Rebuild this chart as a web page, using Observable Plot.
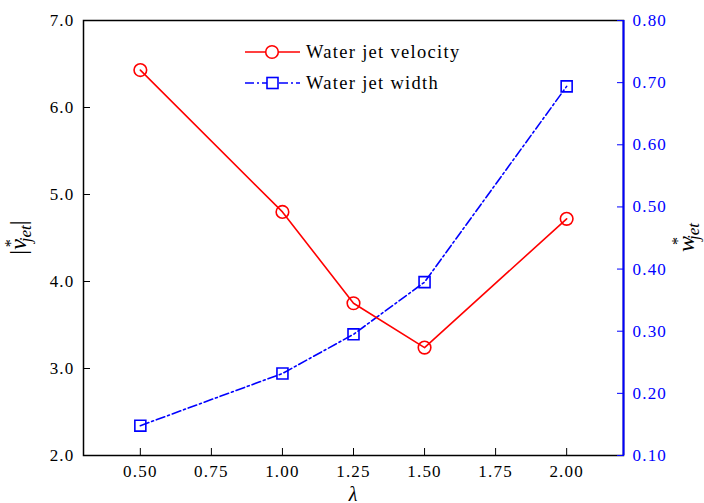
<!DOCTYPE html>
<html><head>
<meta charset="utf-8">
<script src="https://cdn.jsdelivr.net/npm/d3@7"></script>
<script src="https://cdn.jsdelivr.net/npm/@observablehq/plot@0.6"></script>
<style>
body{margin:0;background:#fff}
#c{position:relative;width:704px;height:503px;overflow:hidden}
#c svg{display:block}
</style>
</head><body><div id="c"></div>
<script>
// Data
const lambda = [0.5, 1.0, 1.25, 1.5, 2.0];
const velocity = [6.43, 4.80, 3.75, 3.24, 4.72];
const jetWidth = [0.148, 0.232, 0.295, 0.379, 0.694];
const xTicks = [0.5, 0.75, 1.0, 1.25, 1.5, 1.75, 2.0];
const leftTicks = [2, 3, 4, 5, 6, 7];
const rightTicks = [0.1, 0.2, 0.3, 0.4, 0.5, 0.6, 0.7, 0.8];
const seriesNames = ["Water jet velocity", "Water jet width"];

const xDomain = [0.3, 2.2];
const leftDomain = [2, 7];
const rightDomain = [0.1, 0.8];
const toLeft = w => leftDomain[0] + (w - rightDomain[0]) / (rightDomain[1] - rightDomain[0]) * (leftDomain[1] - leftDomain[0]);
const toRight = v => rightDomain[0] + (v - leftDomain[0]) / (leftDomain[1] - leftDomain[0]) * (rightDomain[1] - rightDomain[0]);

const vel = lambda.map((x, i) => ({x, y: velocity[i]}));
const wid = lambda.map((x, i) => ({x, y: toLeft(jetWidth[i])}));

const W = 704, H = 503, mL = 83, mR = 81, mT = 20, mB = 48;
const dashDot = "9,3,2,3";
const FF = "Liberation Serif, Times New Roman, serif";

const chart = Plot.plot({
  width: W, height: H,
  marginLeft: mL, marginRight: mR, marginTop: mT, marginBottom: mB,
  x: {domain: xDomain},
  y: {domain: leftDomain},
  marks: [
    Plot.frame({stroke: "black", strokeWidth: 1.5}),
    Plot.ruleX([xDomain[1]], {stroke: "blue", strokeWidth: 2}),
    Plot.axisX({ticks: xTicks, tickSize: -7, tickFormat: d => d.toFixed(2), label: null, fontSize: 17, fontFamily: FF, fill: "black"}),
    Plot.axisY({ticks: leftTicks, tickSize: -7, tickFormat: d => d.toFixed(1), label: null, fontSize: 17, fontFamily: FF, fill: "black"}),
    Plot.axisY({anchor: "right", ticks: rightTicks.map(toLeft), tickSize: -7,
      tickFormat: d => toRight(d).toFixed(2), label: null, color: "blue", stroke: "blue", fill: "blue", fontSize: 17, fontFamily: FF}),
    Plot.line(wid, {x: "x", y: "y", stroke: "blue", strokeWidth: 1.6, strokeDasharray: dashDot}),
    Plot.dot(wid, {x: "x", y: "y", symbol: "square", r: 6.2, stroke: "blue", strokeWidth: 1.6, fill: "none"}),
    Plot.line(vel, {x: "x", y: "y", stroke: "red", strokeWidth: 1.6}),
    Plot.dot(vel, {x: "x", y: "y", symbol: "circle", r: 6.3, stroke: "red", strokeWidth: 1.6, fill: "none"})
  ]
});
chart.setAttribute("font-family", FF);
chart.style.background = "white";
d3.select(chart).selectAll("text")
  .attr("font-family", FF).attr("font-size", 17).attr("letter-spacing", 1.2);
document.getElementById("c").appendChild(chart);

// Overlay: axis titles and legend
const svg = d3.select(chart);
const g = svg.append("g").attr("font-family", FF).attr("text-anchor", "start");
const plotMidY = mT + (H - mT - mB) / 2;

// Left axis title |v*_jet|
const lt = g.append("text").attr("transform", `translate(26,${plotMidY}) rotate(-90)`)
  .attr("text-anchor", "middle").attr("font-size", 24).attr("fill", "black");
lt.append("tspan").text("|");
lt.append("tspan").attr("font-style", "italic").text("v");
lt.append("tspan").attr("font-size", 16).attr("dy", -10).attr("dx", -8).text("*");
lt.append("tspan").attr("font-size", 17).attr("font-style", "italic").attr("dy", 15).attr("dx", -3).text("jet");
lt.append("tspan").attr("dy", -5).text("|");

// Right axis title w*_jet
const rt = g.append("text").attr("transform", `translate(694,${plotMidY}) rotate(-90)`)
  .attr("text-anchor", "middle").attr("font-size", 24).attr("fill", "black");
rt.append("tspan").attr("font-style", "italic").text("w");
rt.append("tspan").attr("font-size", 16).attr("dy", -11).attr("dx", -9).text("*");
rt.append("tspan").attr("font-size", 17).attr("font-style", "italic").attr("dy", 16).attr("dx", -3).text("jet");

// x axis title
g.append("text").attr("x", mL + (W - mL - mR) / 2).attr("y", 501).attr("text-anchor", "middle")
  .attr("font-size", 20).attr("font-style", "italic").attr("fill", "black").text("λ");

// Legend
const legend = [
  {name: seriesNames[0], color: "red", dash: null, sym: "circle", y: 52},
  {name: seriesNames[1], color: "blue", dash: dashDot, sym: "square", y: 83}
];
legend.forEach(d => {
  const lg = g.append("g");
  lg.append("line").attr("x1", 245).attr("x2", 300).attr("y1", d.y).attr("y2", d.y)
    .attr("stroke", d.color).attr("stroke-width", 1.6).attr("stroke-dasharray", d.dash);
  if (d.sym === "circle") {
    lg.append("circle").attr("cx", 272).attr("cy", d.y).attr("r", 6.3).attr("fill", "white")
      .attr("stroke", d.color).attr("stroke-width", 1.6);
  } else {
    lg.append("rect").attr("x", 267).attr("y", d.y - 5.5).attr("width", 11).attr("height", 11)
      .attr("fill", "white").attr("stroke", d.color).attr("stroke-width", 1.6);
  }
  lg.append("text").attr("x", 306).attr("y", d.y).attr("dy", "0.35em").attr("font-size", 18.5)
    .attr("letter-spacing", 1.3).attr("text-anchor", "start").attr("fill", "black").text(d.name);
});
</script>
</body></html>
